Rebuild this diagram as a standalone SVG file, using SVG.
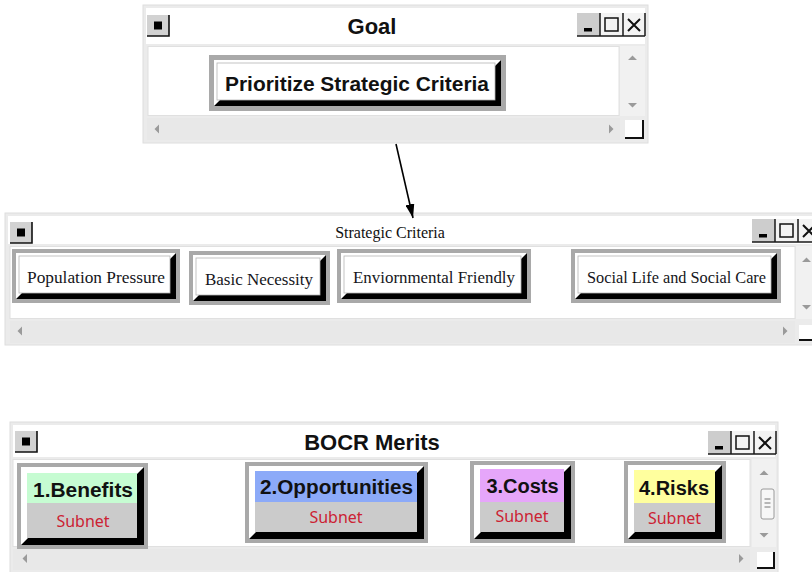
<svg xmlns="http://www.w3.org/2000/svg" xmlns:xlink="http://www.w3.org/1999/xlink" width="812" height="572" viewBox="0 0 812 572">
<style>
.frame{fill:#ebebeb;stroke:#dedede;stroke-width:1}
.tbar{fill:#ffffff}
.content{fill:#ffffff;stroke:#e0e0e0;stroke-width:1}
.vs{fill:#f1f1f1}
.hs{fill:#e8e8e8}
.sarrow{fill:#9a9a9a}
.ngray{fill:#a9a9a9}
.nhl{fill:#ffffff}
.nsh{fill:#000000}
.nbox{fill:#ffffff;stroke:#b4b4b4;stroke-width:0.8}
.body{fill:#cbcbcb}
.wtitle{font-family:"Liberation Sans",Arial,sans-serif;font-weight:bold;font-size:22px;fill:#111;text-anchor:middle}
.stitle{font-family:"Liberation Serif","Times New Roman",serif;font-size:16px;fill:#111;text-anchor:middle}
.gtext{font-family:"Liberation Sans",Arial,sans-serif;font-weight:bold;font-size:21px;fill:#111;text-anchor:middle}
.ctext{font-family:"Liberation Serif","Times New Roman",serif;font-size:17px;fill:#151520;text-anchor:middle}
.btext{font-family:"Liberation Sans",Arial,sans-serif;font-weight:bold;font-size:20px;fill:#111;text-anchor:middle}
.sub{font-family:"Noto Sans","Open Sans",sans-serif;font-size:16px;fill:#cc2233;text-anchor:middle}
.edge{stroke:#000;stroke-width:1.6;fill:none}
</style>
<defs>
<marker id="arrow" viewBox="0 0 14 9" refX="14" refY="4.5" markerWidth="14" markerHeight="9" markerUnits="userSpaceOnUse" orient="auto">
<path d="M0,0 L14,4.5 L0,9 z" fill="#000"/>
</marker>
<g id="tbtn">
<rect x="0" y="0" width="22" height="21" fill="#d2d2d2"/>
<path d="M0,21 H22 V0" stroke="#111" stroke-width="1.6" fill="none"/>
<rect x="7" y="6.5" width="8" height="8" fill="#000"/>
</g>
<g id="ctrl">
<rect x="0" y="0" width="23" height="23" fill="#cdcdcd"/>
<rect x="23" y="0" width="45" height="23" fill="#f3f3f3"/>
<path d="M0,23 H68 M23,0 V23 M46,0 V23 M68,0 V23" stroke="#1a1a1a" stroke-width="1.5" fill="none"/>
<rect x="7" y="15" width="8" height="3.5" fill="#000"/>
<rect x="28" y="5" width="13" height="13" fill="none" stroke="#111" stroke-width="1.5"/>
<path d="M51,6 L63,18 M63,6 L51,18" stroke="#111" stroke-width="2" fill="none"/>
</g>
</defs>

<!-- Windows -->
<g id="win-goal">
<rect class="frame" x="143" y="5" width="505" height="138"/>
<rect class="tbar" x="146" y="8" width="499" height="36"/>
<rect class="content" x="148" y="46.5" width="471" height="69"/>
<rect class="vs" x="620" y="46" width="25" height="70"/>
<path class="sarrow" d="M628,60 L632.5,55.5 L637,60 z M628,103 L632.5,107.5 L637,103 z"/>
<rect class="hs" x="147" y="118" width="473" height="22"/>
<path class="sarrow" d="M159,124.5 L154.5,129 L159,133.5 z M609,124.5 L613.5,129 L609,133.5 z"/>
<rect x="625" y="120" width="18" height="18" fill="#fff"/>
<path d="M643,120 V138 H625" stroke="#111" stroke-width="2" fill="none"/>
<use xlink:href="#tbtn" x="147" y="15"/>
<use xlink:href="#ctrl" x="577" y="13"/>
<text class="wtitle" x="372" y="34">Goal</text>
</g>

<g id="win-strategic">
<rect class="frame" x="5" y="213" width="810" height="132"/>
<rect class="tbar" x="8" y="216" width="806" height="28"/>
<rect class="content" x="10" y="246.5" width="785" height="72"/>
<rect class="vs" x="796" y="246" width="16" height="73"/>
<path class="sarrow" d="M802,262 L806.5,257.5 L811,262 z M802,305 L806.5,309.5 L811,305 z"/>
<rect class="hs" x="10" y="321" width="785" height="22"/>
<path class="sarrow" d="M22,326.5 L17.5,331 L22,335.5 z M783,326.5 L787.5,331 L783,335.5 z"/>
<rect x="799" y="325" width="15" height="15" fill="#fff"/>
<path d="M799,340 H814" stroke="#111" stroke-width="2" fill="none"/>
<use xlink:href="#tbtn" x="10" y="222"/>
<use xlink:href="#ctrl" x="752" y="219"/>
<text class="stitle" x="390" y="238">Strategic Criteria</text>
</g>

<g id="win-bocr">
<rect class="frame" x="10" y="422" width="768" height="152"/>
<rect class="tbar" x="13" y="425" width="762" height="32"/>
<rect class="content" x="13" y="459.5" width="737" height="87"/>
<rect class="vs" x="752" y="459" width="24" height="88"/>
<path class="sarrow" d="M759.5,475 L764,470.5 L768.5,475 z M759.5,533 L764,537.5 L768.5,533 z"/>
<rect x="761" y="489" width="13" height="30" rx="2" fill="#f7f7f7" stroke="#9a9a9a" stroke-width="1"/>
<path d="M764.5,499 H770.5 M764.5,503 H770.5 M764.5,507 H770.5" stroke="#777" stroke-width="1"/>
<rect class="hs" x="13" y="549" width="737" height="21"/>
<path class="sarrow" d="M27,554 L22.5,558.5 L27,563 z M739,554 L743.5,558.5 L739,563 z"/>
<rect x="757" y="552" width="17" height="16" fill="#fff"/>
<path d="M774,552 V568 H757" stroke="#111" stroke-width="2" fill="none"/>
<use xlink:href="#tbtn" x="15" y="431"/>
<use xlink:href="#ctrl" x="708" y="431"/>
<text class="wtitle" x="372" y="450">BOCR Merits</text>
</g>

<!-- Connectors -->
<g id="connectors">
<line class="edge" x1="396" y1="144" x2="413" y2="218" marker-end="url(#arrow)"/>
</g>

<!-- Nodes -->
<g id="node-goal">
<rect class="ngray" x="209" y="55" width="297" height="56"/>
<rect class="nhl" x="214" y="60" width="287" height="46"/>
<polygon class="nsh" points="501,60 501,106 214,106 220,100 495,100 495,66"/>
<rect class="nbox" x="217" y="63" width="278" height="37"/>
<text class="gtext" x="357" y="91" textLength="264" lengthAdjust="spacingAndGlyphs">Prioritize Strategic Criteria</text>
</g>

<g id="node-population">
<rect class="ngray" x="12" y="249" width="168" height="54"/>
<rect class="nhl" x="16" y="253" width="160" height="46"/>
<polygon class="nsh" points="176,253 176,299 16,299 22,293 170,293 170,259"/>
<rect class="nbox" x="19" y="256" width="151" height="37"/>
<text class="ctext" x="96" y="283" textLength="138" lengthAdjust="spacingAndGlyphs">Population Pressure</text>
</g>

<g id="node-basic">
<rect class="ngray" x="189" y="251" width="141" height="54"/>
<rect class="nhl" x="193" y="255" width="133" height="46"/>
<polygon class="nsh" points="326,255 326,301 193,301 199,295 320,295 320,261"/>
<rect class="nbox" x="196" y="258" width="124" height="37"/>
<text class="ctext" x="259" y="285" textLength="108" lengthAdjust="spacingAndGlyphs">Basic Necessity</text>
</g>

<g id="node-environmental">
<rect class="ngray" x="337" y="249" width="194" height="54"/>
<rect class="nhl" x="341" y="253" width="186" height="46"/>
<polygon class="nsh" points="527,253 527,299 341,299 347,293 521,293 521,259"/>
<rect class="nbox" x="344" y="256" width="177" height="37"/>
<text class="ctext" x="434" y="283" textLength="162" lengthAdjust="spacingAndGlyphs">Enviornmental Friendly</text>
</g>

<g id="node-social">
<rect class="ngray" x="571" y="249" width="210" height="54"/>
<rect class="nhl" x="575" y="253" width="202" height="46"/>
<polygon class="nsh" points="777,253 777,299 575,299 581,293 771,293 771,259"/>
<rect class="nbox" x="578" y="256" width="193" height="37"/>
<text class="ctext" x="676.5" y="283" textLength="179" lengthAdjust="spacingAndGlyphs">Social Life and Social Care</text>
</g>

<g id="node-benefits">
<rect class="ngray" x="17" y="463" width="131" height="86"/>
<rect class="nhl" x="21" y="467" width="123" height="78"/>
<polygon class="nsh" points="144,467 144,545 21,545 28,538 137,538 137,474"/>
<rect class="body" x="27" y="503" width="110" height="35"/>
<rect x="27" y="473" width="110" height="30" fill="#c6fcd2"/>
<text class="btext" x="83" y="497" textLength="100" lengthAdjust="spacingAndGlyphs">1.Benefits</text>
<text class="sub" x="83" y="527">Subnet</text>
</g>

<g id="node-opportunities">
<rect class="ngray" x="245" y="462" width="183" height="81"/>
<rect class="nhl" x="249" y="466" width="175" height="73"/>
<polygon class="nsh" points="424,466 424,539 249,539 256,532 417,532 417,473"/>
<rect class="body" x="255" y="502" width="162" height="30"/>
<rect x="255" y="471" width="162" height="31" fill="#8caaf8"/>
<text class="btext" x="336.5" y="494" textLength="153" lengthAdjust="spacingAndGlyphs">2.Opportunities</text>
<text class="sub" x="336" y="523">Subnet</text>
</g>

<g id="node-costs">
<rect class="ngray" x="470" y="461" width="105" height="82"/>
<rect class="nhl" x="474" y="465" width="97" height="74"/>
<polygon class="nsh" points="571,465 571,539 474,539 481,532 564,532 564,472"/>
<rect class="body" x="480" y="502" width="84" height="30"/>
<rect x="480" y="469" width="84" height="33" fill="#e6a6fa"/>
<text class="btext" x="522.5" y="493">3.Costs</text>
<text class="sub" x="522" y="522">Subnet</text>
</g>

<g id="node-risks">
<rect class="ngray" x="624" y="461" width="102" height="82"/>
<rect class="nhl" x="628" y="465" width="94" height="74"/>
<polygon class="nsh" points="722,465 722,539 628,539 635,532 715,532 715,472"/>
<rect class="body" x="634" y="503" width="81" height="29"/>
<rect x="634" y="470" width="81" height="33" fill="#ffff9e"/>
<text class="btext" x="674" y="495">4.Risks</text>
<text class="sub" x="674.5" y="524">Subnet</text>
</g>
</svg>
